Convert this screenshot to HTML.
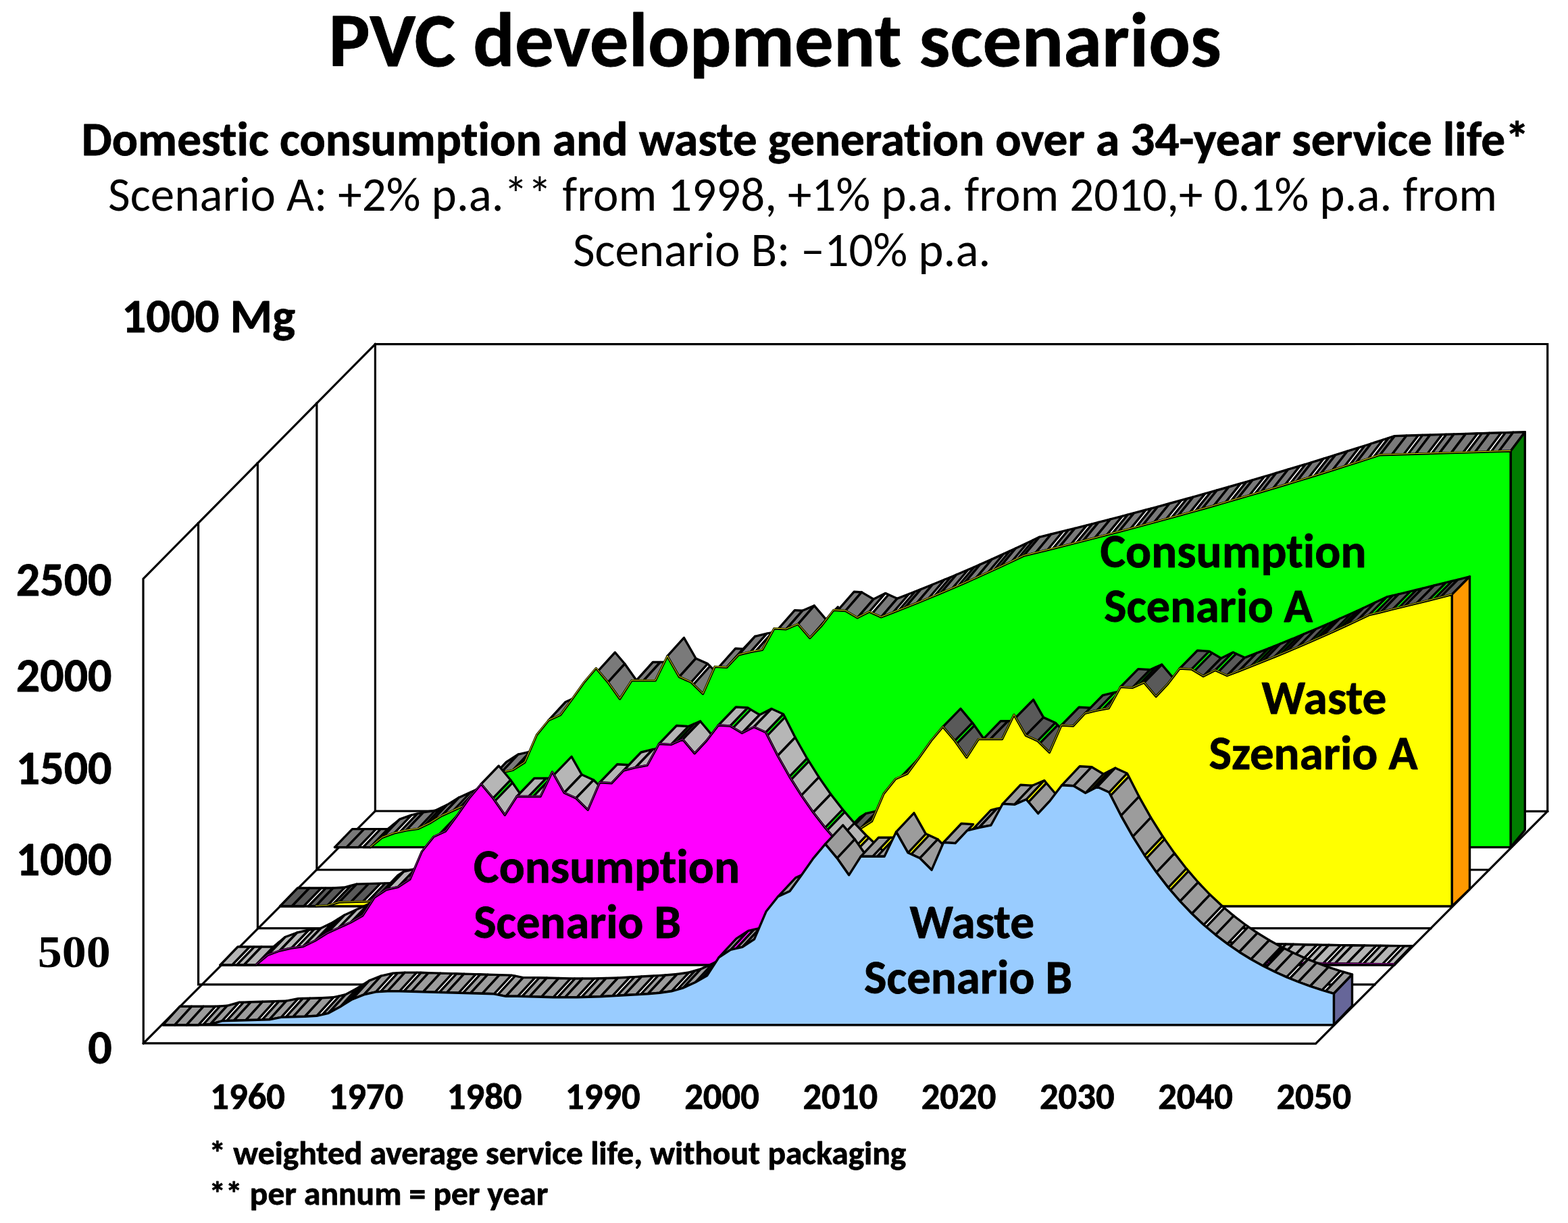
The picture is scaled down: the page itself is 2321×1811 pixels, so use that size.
<!DOCTYPE html>
<html lang="en">
<head>
<meta charset="utf-8">
<title>PVC development scenarios</title>
<style>
html,body{margin:0;padding:0;background:#fff}
body{width:2321px;height:1811px;overflow:hidden}
svg{display:block}
text{fill:#000;font-variant-ligatures:none;font-kerning:normal}
.r{font-size-adjust:0.47754}
.b{font-size-adjust:0.48486;stroke:#000;stroke-width:.8px;stroke-linejoin:round}
</style>
</head>
<body>
<svg width="2321" height="1811" viewBox="0 0 2321 1811">
<rect width="2321" height="1811" fill="#fff"/>
<g>
<g fill="none" stroke="#000" stroke-width="3.2" stroke-linejoin="miter" stroke-linecap="square">
<path d="M555.4 509.6 L2290.7 509.5 L2290.7 1201.3 L555.4 1201 Z"/>
<path d="M555.4 509.6 L212 857.1 L212.3 1544.9 L1947.6 1545.3 L2290.7 1201.3"/>
<path d="M212.3 1544.9 L555.4 1201"/>
<path d="M293.6 774.5 L293.6 1457.8 L299.2 1457.8 L2034.9 1457.8"/>
<path d="M381.4 685.7 L381.4 1374.6 L382.2 1374.6 L2117.9 1374.6"/>
<path d="M468.9 597.1 L468.9 1288 L468.6 1288 L2204.2 1288"/>
</g>
<g stroke="#000" stroke-width="3.4" stroke-linejoin="round">
<g fill="#7a7a7a">
<path d="M495.5 1254.6 L513.1 1254.6 L539 1227.6 L521.5 1227.6 Z"/>
<path d="M513.1 1254.6 L530.7 1254.6 L556.6 1227.6 L539 1227.6 Z"/>
<path d="M537.5 1254.6 L548.2 1254.6 L574.1 1227.6 L563.4 1227.6 Z"/>
<path d="M548.2 1254.6 L565.8 1240.3 L591.6 1213.2 L574.1 1227.6 Z"/>
<path d="M565.8 1240.3 L583.4 1233.8 L609.2 1206.8 L591.6 1213.2 Z"/>
<path d="M592 1231.9 L601 1229.9 L626.7 1202.8 L617.8 1204.8 Z"/>
<path d="M601 1229.9 L618.6 1227.4 L644.2 1200.3 L626.7 1202.8 Z"/>
<path d="M627.4 1223.2 L636.2 1219 L661.8 1191.9 L653 1196.1 Z"/>
<path d="M636.2 1219 L653.7 1208.1 L679.3 1181 L661.8 1191.9 Z"/>
<path d="M653.7 1208.1 L671.3 1200.2 L696.8 1173.1 L679.3 1181 Z"/>
<path d="M680.1 1196.2 L688.9 1192.3 L714.4 1165.1 L705.6 1169.1 Z"/>
<path d="M688.9 1192.3 L706.5 1182.4 L731.9 1155.2 L714.4 1165.1 Z"/>
<path d="M724.1 1155.7 L741.6 1144.3 L767 1117.1 L749.4 1128.5 Z"/>
<path d="M741.6 1144.3 L759.2 1140.4 L784.5 1113.2 L767 1117.1 Z"/>
<path d="M768 1134.7 L776.8 1129 L802 1101.8 L793.3 1107.5 Z"/>
<path d="M812 1066.7 L829.6 1058.8 L854.6 1031.5 L837.1 1039.5 Z"/>
<path d="M885.5 993.3 L899.9 1010.3 L924.8 983 L910.4 966 Z"/>
<path d="M899.9 1010.3 L917.5 1035 L942.3 1007.7 L924.8 983 Z"/>
<path d="M941.7 1007.8 L952.6 1007.8 L977.4 980.5 L966.4 980.5 Z"/>
<path d="M952.6 1007.8 L970.2 1007.8 L994.9 980.5 L977.4 980.5 Z"/>
<path d="M987.8 971.7 L1005.4 1002.4 L1030 975 L1012.4 944.4 Z"/>
<path d="M1005.4 1002.4 L1023 1010.3 L1047.5 982.9 L1030 975 Z"/>
<path d="M1026.5 1013.7 L1040.5 1027.5 L1065 1000.1 L1051 986.4 Z"/>
<path d="M1064.3 987.7 L1075.7 988.4 L1100.1 960.9 L1088.8 960.2 Z"/>
<path d="M1075.7 988.4 L1093.3 969.8 L1117.6 942.3 L1100.1 960.9 Z"/>
<path d="M1093.3 969.8 L1110.9 965.5 L1135.2 938.1 L1117.6 942.3 Z"/>
<path d="M1118.7 964.1 L1128.4 962.3 L1152.7 934.8 L1143 936.6 Z"/>
<path d="M1152.2 931.1 L1163.6 931.8 L1187.8 904.3 L1176.4 903.6 Z"/>
<path d="M1163.6 931.8 L1181.2 924.3 L1205.3 896.8 L1187.8 904.3 Z"/>
<path d="M1181.2 924.3 L1198.8 944.8 L1222.8 917.3 L1205.3 896.8 Z"/>
<path d="M1207.6 935.5 L1216.4 926.3 L1240.4 898.7 L1231.6 908 Z"/>
<path d="M1240.1 903.9 L1251.5 904.5 L1275.4 876.9 L1264.1 876.3 Z"/>
<path d="M1251.5 904.5 L1269.1 914.9 L1293 887.3 L1275.4 876.9 Z"/>
<path d="M1269.1 914.9 L1286.7 906 L1310.5 878.4 L1293 887.3 Z"/>
<path d="M1291.3 908.1 L1304.3 913.9 L1328 886.3 L1315.2 880.5 Z"/>
<path d="M1304.3 913.9 L1321.8 907.1 L1345.6 879.5 L1328 886.3 Z"/>
<path d="M1330.6 903.7 L1339.4 900.2 L1363.1 872.6 L1354.4 876 Z"/>
<path d="M1339.4 900.2 L1357 893.2 L1380.6 865.5 L1363.1 872.6 Z"/>
<path d="M1357 893.2 L1374.6 886 L1398.2 858.3 L1380.6 865.5 Z"/>
<path d="M1383.4 882.3 L1392.2 878.6 L1415.7 851 L1407 854.7 Z"/>
<path d="M1392.2 878.6 L1409.8 871.2 L1433.2 843.5 L1415.7 851 Z"/>
<path d="M1418.5 867.4 L1427.3 863.6 L1450.8 835.9 L1442 839.7 Z"/>
<path d="M1427.3 863.6 L1444.9 855.8 L1468.3 828.1 L1450.8 835.9 Z"/>
<path d="M1444.9 855.8 L1462.5 847.8 L1485.8 820.1 L1468.3 828.1 Z"/>
<path d="M1471.3 843.8 L1480.1 839.8 L1503.4 812 L1494.6 816.1 Z"/>
<path d="M1480.1 839.8 L1497.7 831.5 L1520.9 803.8 L1503.4 812 Z"/>
<path d="M1506.5 827.3 L1515.2 823.1 L1538.4 795.3 L1529.7 799.6 Z"/>
<path d="M1515.2 823.1 L1532.8 818.8 L1556 791 L1538.4 795.3 Z"/>
<path d="M1532.8 818.8 L1550.4 814.5 L1573.5 786.7 L1556 791 Z"/>
<path d="M1558.4 812.5 L1568 810.1 L1591 782.3 L1581.5 784.7 Z"/>
<path d="M1568 810.1 L1585.6 805.7 L1608.6 777.8 L1591 782.3 Z"/>
<path d="M1593.6 803.6 L1603.2 801.2 L1626.1 773.4 L1616.6 775.8 Z"/>
<path d="M1603.2 801.2 L1620.7 796.7 L1643.6 768.8 L1626.1 773.4 Z"/>
<path d="M1620.7 796.7 L1638.3 792.1 L1661.2 764.3 L1643.6 768.8 Z"/>
<path d="M1646.4 790 L1655.9 787.5 L1678.7 759.6 L1669.2 762.1 Z"/>
<path d="M1655.9 787.5 L1673.5 782.9 L1696.2 755 L1678.7 759.6 Z"/>
<path d="M1681.6 780.7 L1691.1 778.2 L1713.8 750.3 L1704.3 752.8 Z"/>
<path d="M1691.1 778.2 L1708.6 773.4 L1731.3 745.5 L1713.8 750.3 Z"/>
<path d="M1708.6 773.4 L1726.2 768.6 L1748.8 740.7 L1731.3 745.5 Z"/>
<path d="M1734.3 766.4 L1743.8 763.8 L1766.4 735.8 L1756.9 738.5 Z"/>
<path d="M1743.8 763.8 L1761.4 758.9 L1783.9 730.9 L1766.4 735.8 Z"/>
<path d="M1769.5 756.6 L1779 754 L1801.4 726 L1792 728.7 Z"/>
<path d="M1779 754 L1796.6 749 L1819 721 L1801.4 726 Z"/>
<path d="M1796.6 749 L1814.1 743.9 L1836.5 715.9 L1819 721 Z"/>
<path d="M1822.3 741.6 L1831.7 738.8 L1854 710.9 L1844.7 713.6 Z"/>
<path d="M1831.7 738.8 L1849.3 733.7 L1871.6 705.7 L1854 710.9 Z"/>
<path d="M1857.5 731.3 L1866.9 728.5 L1889.1 700.5 L1879.7 703.3 Z"/>
<path d="M1866.9 728.5 L1884.5 723.3 L1906.6 695.2 L1889.1 700.5 Z"/>
<path d="M1884.5 723.3 L1902 718 L1924.2 689.9 L1906.6 695.2 Z"/>
<path d="M1910.3 715.5 L1919.6 712.7 L1941.7 684.6 L1932.4 687.5 Z"/>
<path d="M1919.6 712.7 L1937.2 707.3 L1959.2 679.2 L1941.7 684.6 Z"/>
<path d="M1945.4 704.7 L1954.8 701.8 L1976.8 673.7 L1967.5 676.6 Z"/>
<path d="M1954.8 701.8 L1972.4 696.3 L1994.3 668.2 L1976.8 673.7 Z"/>
<path d="M1972.4 696.3 L1990 690.7 L2011.8 662.6 L1994.3 668.2 Z"/>
<path d="M1998.2 688.1 L2007.5 685.1 L2029.4 657 L2020.1 660 Z"/>
<path d="M2007.5 685.1 L2025.1 679.5 L2046.9 651.3 L2029.4 657 Z"/>
<path d="M2033.4 676.8 L2042.7 673.7 L2064.4 645.6 L2055.2 648.6 Z"/>
<path d="M2042.7 673.7 L2060.3 673.2 L2082 645 L2064.4 645.6 Z"/>
<path d="M2060.3 673.2 L2077.9 672.7 L2099.5 644.5 L2082 645 Z"/>
<path d="M2084.2 672.5 L2095.4 672.2 L2117 644 L2105.8 644.3 Z"/>
<path d="M2095.4 672.2 L2113 671.7 L2134.6 643.4 L2117 644 Z"/>
<path d="M2119.3 671.5 L2130.6 671.1 L2152.1 642.9 L2140.9 643.3 Z"/>
<path d="M2130.6 671.1 L2148.2 670.6 L2169.6 642.4 L2152.1 642.9 Z"/>
<path d="M2148.2 670.6 L2165.8 670.1 L2187.2 641.8 L2169.6 642.4 Z"/>
<path d="M2172.1 669.9 L2183.4 669.6 L2204.7 641.3 L2193.5 641.7 Z"/>
<path d="M2183.4 669.6 L2200.9 669 L2222.2 640.8 L2204.7 641.3 Z"/>
<path d="M2207.2 668.9 L2218.5 668.5 L2239.8 640.2 L2228.5 640.6 Z"/>
<path d="M2218.5 668.5 L2236.1 668 L2257.3 639.7 L2239.8 640.2 Z"/>
</g>
<path fill="none" stroke-linecap="butt" d="M539 1227.6 L539 1227.6 M556.6 1227.6 L563.4 1227.6 M574.1 1227.6 L574.1 1227.6 M591.6 1213.2 L591.6 1213.2 M609.2 1206.8 L617.8 1204.8 M626.7 1202.8 L626.7 1202.8 M644.2 1200.3 L653 1196.1 M661.8 1191.9 L661.8 1191.9 M679.3 1181 L679.3 1181 M696.8 1173.1 L705.6 1169.1 M714.4 1165.1 L714.4 1165.1 M767 1117.1 L767 1117.1 M784.5 1113.2 L793.3 1107.5 M924.8 983 L924.8 983 M977.4 980.5 L977.4 980.5 M1030 975 L1030 975 M1047.5 982.9 L1051 986.4 M1100.1 960.9 L1100.1 960.9 M1117.6 942.3 L1117.6 942.3 M1135.2 938.1 L1143 936.6 M1187.8 904.3 L1187.8 904.3 M1205.3 896.8 L1205.3 896.8 M1222.8 917.3 L1231.6 908 M1275.4 876.9 L1275.4 876.9 M1293 887.3 L1293 887.3 M1310.5 878.4 L1315.2 880.5 M1328 886.3 L1328 886.3 M1345.6 879.5 L1354.4 876 M1363.1 872.6 L1363.1 872.6 M1380.6 865.5 L1380.6 865.5 M1398.2 858.3 L1407 854.7 M1415.7 851 L1415.7 851 M1433.2 843.5 L1442 839.7 M1450.8 835.9 L1450.8 835.9 M1468.3 828.1 L1468.3 828.1 M1485.8 820.1 L1494.6 816.1 M1503.4 812 L1503.4 812 M1520.9 803.8 L1529.7 799.6 M1538.4 795.3 L1538.4 795.3 M1556 791 L1556 791 M1573.5 786.7 L1581.5 784.7 M1591 782.3 L1591 782.3 M1608.6 777.8 L1616.6 775.8 M1626.1 773.4 L1626.1 773.4 M1643.6 768.8 L1643.6 768.8 M1661.2 764.3 L1669.2 762.1 M1678.7 759.6 L1678.7 759.6 M1696.2 755 L1704.3 752.8 M1713.8 750.3 L1713.8 750.3 M1731.3 745.5 L1731.3 745.5 M1748.8 740.7 L1756.9 738.5 M1766.4 735.8 L1766.4 735.8 M1783.9 730.9 L1792 728.7 M1801.4 726 L1801.4 726 M1819 721 L1819 721 M1836.5 715.9 L1844.7 713.6 M1854 710.9 L1854 710.9 M1871.6 705.7 L1879.7 703.3 M1889.1 700.5 L1889.1 700.5 M1906.6 695.2 L1906.6 695.2 M1924.2 689.9 L1932.4 687.5 M1941.7 684.6 L1941.7 684.6 M1959.2 679.2 L1967.5 676.6 M1976.8 673.7 L1976.8 673.7 M1994.3 668.2 L1994.3 668.2 M2011.8 662.6 L2020.1 660 M2029.4 657 L2029.4 657 M2046.9 651.3 L2055.2 648.6 M2064.4 645.6 L2064.4 645.6 M2082 645 L2082 645 M2099.5 644.5 L2105.8 644.3 M2117 644 L2117 644 M2134.6 643.4 L2140.9 643.3 M2152.1 642.9 L2152.1 642.9 M2169.6 642.4 L2169.6 642.4 M2187.2 641.8 L2193.5 641.7 M2204.7 641.3 L2204.7 641.3 M2222.2 640.8 L2228.5 640.6 M2239.8 640.2 L2239.8 640.2"/>
<path fill="#007c00" d="M2236.1 668 L2257.3 639.7 L2257.3 1229.1 L2236.1 1254.6 Z"/>
<polygon fill="#00ff00" points="495.5,1254.6 513.1,1254.6 530.7,1254.6 548.2,1254.6 565.8,1240.3 583.4,1233.8 601,1229.9 618.6,1227.4 636.2,1219 653.7,1208.1 671.3,1200.2 688.9,1192.3 706.5,1182.4 724.1,1155.7 741.6,1144.3 759.2,1140.4 776.8,1129 794.4,1088.4 812,1066.7 829.6,1058.8 847.1,1035 864.7,1010.3 882.3,989.5 899.9,1010.3 917.5,1035 935,1007.8 952.6,1007.8 970.2,1007.8 987.8,971.7 1005.4,1002.4 1023,1010.3 1040.5,1027.5 1058.1,987.3 1075.7,988.4 1093.3,969.8 1110.9,965.5 1128.4,962.3 1146,930.7 1163.6,931.8 1181.2,924.3 1198.8,944.8 1216.4,926.3 1233.9,903.5 1251.5,904.5 1269.1,914.9 1286.7,906 1304.3,913.9 1321.8,907.1 1339.4,900.2 1357,893.2 1374.6,886 1392.2,878.6 1409.8,871.2 1427.3,863.6 1444.9,855.8 1462.5,847.8 1480.1,839.8 1497.7,831.5 1515.2,823.1 1532.8,818.8 1550.4,814.5 1568,810.1 1585.6,805.7 1603.2,801.2 1620.7,796.7 1638.3,792.1 1655.9,787.5 1673.5,782.9 1691.1,778.2 1708.6,773.4 1726.2,768.6 1743.8,763.8 1761.4,758.9 1779,754 1796.6,749 1814.1,743.9 1831.7,738.8 1849.3,733.7 1866.9,728.5 1884.5,723.3 1902,718 1919.6,712.7 1937.2,707.3 1954.8,701.8 1972.4,696.3 1990,690.7 2007.5,685.1 2025.1,679.5 2042.7,673.7 2060.3,673.2 2077.9,672.7 2095.4,672.2 2113,671.7 2130.6,671.1 2148.2,670.6 2165.8,670.1 2183.4,669.6 2200.9,669 2218.5,668.5 2236.1,668 2236.1,1254.6 495.5,1254.6"/>
</g>
<polyline fill="none" stroke="#e6e600" stroke-width="1" stroke-linejoin="round" points="548.2,1254 565.8,1239.7 583.4,1233.2 601,1229.3 618.6,1226.8 636.2,1218.4 653.7,1207.5 671.3,1199.6 688.9,1191.7 706.5,1181.8 724.1,1155.1 741.6,1143.7 759.2,1139.8 776.8,1128.4 794.4,1087.8 812,1066.1 829.6,1058.2 847.1,1034.4 864.7,1009.7 882.3,988.9 899.9,1009.7 917.5,1034.4 935,1007.2 952.6,1007.2 970.2,1007.2 987.8,971.1 1005.4,1001.8 1023,1009.7 1040.5,1026.9 1058.1,986.7 1075.7,987.8 1093.3,969.2 1110.9,964.9 1128.4,961.7 1146,930.1 1163.6,931.2 1181.2,923.7 1198.8,944.2 1216.4,925.7 1233.9,902.9 1251.5,903.9 1269.1,914.3 1286.7,905.4 1304.3,913.3 1321.8,906.5 1339.4,899.6 1357,892.6 1374.6,885.4 1392.2,878 1409.8,870.6 1427.3,863 1444.9,855.2 1462.5,847.2 1480.1,839.2 1497.7,830.9 1515.2,822.5 1532.8,818.2 1550.4,813.9 1568,809.5 1585.6,805.1 1603.2,800.6 1620.7,796.1 1638.3,791.5 1655.9,786.9 1673.5,782.3 1691.1,777.6 1708.6,772.8 1726.2,768 1743.8,763.2 1761.4,758.3 1779,753.4 1796.6,748.4 1814.1,743.3 1831.7,738.2 1849.3,733.1 1866.9,727.9 1884.5,722.7 1902,717.4 1919.6,712.1 1937.2,706.7 1954.8,701.2 1972.4,695.7 1990,690.1 2007.5,684.5 2025.1,678.9 2042.7,673.1 2060.3,672.6 2077.9,672.1 2095.4,671.6 2113,671.1 2130.6,670.5 2148.2,670 2165.8,669.5 2183.4,669 2200.9,668.4 2218.5,667.9 2236.1,667.4"/>
<g stroke="#000" stroke-width="3.4" stroke-linejoin="round">
<g fill="#595959">
<path d="M414.5 1342 L432 1342 L458 1315 L440.5 1315 Z"/>
<path d="M432 1342 L449.5 1342 L475.6 1315 L458 1315 Z"/>
<path d="M456.3 1342 L467.1 1342 L493.1 1315 L482.4 1315 Z"/>
<path d="M467.1 1342 L484.6 1341 L510.6 1314 L493.1 1315 Z"/>
<path d="M493.4 1338.5 L502.1 1336 L528.1 1309.1 L519.4 1311.5 Z"/>
<path d="M502.1 1336 L519.6 1335.6 L545.7 1308.6 L528.1 1309.1 Z"/>
<path d="M519.6 1335.6 L537.2 1335.1 L563.2 1308.1 L545.7 1308.6 Z"/>
<path d="M544.2 1334.9 L554.7 1334.6 L580.7 1307.6 L570.2 1307.9 Z"/>
<path d="M554.7 1334.6 L572.2 1334.1 L598.2 1307.1 L580.7 1307.6 Z"/>
<path d="M580.6 1332.4 L589.7 1330.6 L615.8 1303.6 L606.6 1305.4 Z"/>
<path d="M589.7 1330.6 L607.2 1330.1 L633.3 1303.1 L615.8 1303.6 Z"/>
<path d="M607.2 1330.1 L624.8 1329.6 L650.8 1302.6 L633.3 1303.1 Z"/>
<path d="M632 1329.2 L642.3 1328.6 L668.3 1301.7 L658 1302.2 Z"/>
<path d="M642.3 1328.6 L659.8 1324.6 L685.9 1297.7 L668.3 1301.7 Z"/>
<path d="M668.6 1319.9 L677.3 1315.2 L703.4 1288.3 L694.6 1293 Z"/>
<path d="M677.3 1315.2 L694.9 1304.3 L720.9 1277.4 L703.4 1288.3 Z"/>
<path d="M694.9 1304.3 L712.4 1297.4 L738.4 1270.4 L720.9 1277.4 Z"/>
<path d="M721.1 1295.4 L729.9 1293.4 L756 1266.5 L747.2 1268.5 Z"/>
<path d="M729.9 1293.4 L747.4 1292.4 L773.5 1265.5 L756 1266.5 Z"/>
<path d="M754.2 1292.4 L764.9 1292.4 L791 1265.5 L780.3 1265.5 Z"/>
<path d="M764.9 1292.4 L782.5 1292.9 L808.5 1266 L791 1265.5 Z"/>
<path d="M782.5 1292.9 L800 1293.4 L826.1 1266.5 L808.5 1266 Z"/>
<path d="M806.6 1293.6 L817.5 1293.9 L843.6 1267 L832.7 1266.7 Z"/>
<path d="M817.5 1293.9 L835 1294.4 L861.1 1267.5 L843.6 1267 Z"/>
<path d="M841.7 1294.6 L852.6 1294.9 L878.6 1268 L867.7 1267.7 Z"/>
<path d="M852.6 1294.9 L870.1 1295.4 L896.2 1268.5 L878.6 1268 Z"/>
<path d="M870.1 1295.4 L887.6 1295.9 L913.7 1269 L896.2 1268.5 Z"/>
<path d="M894.2 1296.1 L905.1 1296.4 L931.2 1269.5 L920.3 1269.2 Z"/>
<path d="M905.1 1296.4 L922.6 1299.8 L948.7 1273 L931.2 1269.5 Z"/>
<path d="M929.5 1299.8 L940.2 1299.8 L966.3 1273 L955.6 1273 Z"/>
<path d="M940.2 1299.8 L957.7 1300.3 L983.8 1273.5 L966.3 1273 Z"/>
<path d="M957.7 1300.3 L975.2 1300.8 L1001.3 1274 L983.8 1273.5 Z"/>
<path d="M981.9 1301 L992.7 1301.3 L1018.8 1274.5 L1008 1274.1 Z"/>
<path d="M992.7 1301.3 L1010.3 1301.3 L1036.4 1274.5 L1018.8 1274.5 Z"/>
<path d="M1017.1 1301.3 L1027.8 1301.3 L1053.9 1274.5 L1043.2 1274.5 Z"/>
<path d="M1027.8 1301.3 L1045.3 1300.8 L1071.4 1274 L1053.9 1274.5 Z"/>
<path d="M1045.3 1300.8 L1062.8 1300.3 L1088.9 1273.5 L1071.4 1274 Z"/>
<path d="M1070.1 1299.9 L1080.3 1299.3 L1106.5 1272.5 L1096.2 1273.1 Z"/>
<path d="M1080.3 1299.3 L1097.9 1298.4 L1124 1271.5 L1106.5 1272.5 Z"/>
<path d="M1105.1 1297.9 L1115.4 1297.4 L1141.5 1270.5 L1131.2 1271.1 Z"/>
<path d="M1115.4 1297.4 L1132.9 1296.4 L1159 1269.5 L1141.5 1270.5 Z"/>
<path d="M1132.9 1296.4 L1150.4 1294.9 L1176.6 1268 L1159 1269.5 Z"/>
<path d="M1158.4 1293.8 L1168 1292.4 L1194.1 1265.6 L1184.5 1266.9 Z"/>
<path d="M1168 1292.4 L1185.5 1287.4 L1211.6 1260.6 L1194.1 1265.6 Z"/>
<path d="M1194.2 1283.5 L1203 1279.5 L1229.1 1252.7 L1220.4 1256.6 Z"/>
<path d="M1203 1279.5 L1220.5 1269.6 L1246.7 1242.8 L1229.1 1252.7 Z"/>
<path d="M1246.8 1237.1 L1255.6 1231.4 L1281.7 1204.6 L1272.9 1210.3 Z"/>
<path d="M1255.6 1231.4 L1273.1 1227.4 L1299.2 1200.6 L1281.7 1204.6 Z"/>
<path d="M1281.8 1221.7 L1290.6 1216 L1316.8 1189.2 L1308 1194.9 Z"/>
<path d="M1334.4 1149.6 L1343.2 1145.6 L1369.3 1118.8 L1360.6 1122.8 Z"/>
<path d="M1395.7 1076.2 L1413.3 1097 L1439.4 1070.3 L1421.9 1049.4 Z"/>
<path d="M1416.1 1101.1 L1430.8 1121.8 L1457 1095.1 L1442.3 1074.3 Z"/>
<path d="M1455.2 1094.6 L1465.8 1094.6 L1492 1067.8 L1481.3 1067.8 Z"/>
<path d="M1465.8 1094.6 L1483.4 1094.6 L1509.5 1067.8 L1492 1067.8 Z"/>
<path d="M1503.4 1062.8 L1518.4 1089.1 L1544.6 1062.4 L1529.6 1036.1 Z"/>
<path d="M1518.4 1089.1 L1535.9 1097.1 L1562.1 1070.3 L1544.6 1062.4 Z"/>
<path d="M1539.4 1100.5 L1553.4 1114.3 L1579.6 1087.6 L1565.6 1073.8 Z"/>
<path d="M1571 1074 L1588.5 1075.1 L1614.7 1048.3 L1597.2 1047.2 Z"/>
<path d="M1606 1056.4 L1623.5 1052.2 L1649.7 1025.4 L1632.2 1029.7 Z"/>
<path d="M1631.9 1050.6 L1641.1 1048.9 L1667.3 1022.2 L1658.1 1023.9 Z"/>
<path d="M1658.6 1017.3 L1676.1 1018.4 L1702.3 991.7 L1684.8 990.6 Z"/>
<path d="M1684.9 1014.6 L1693.6 1010.8 L1719.8 984.1 L1711.1 987.9 Z"/>
<path d="M1693.6 1010.8 L1711.1 1031.5 L1737.4 1004.8 L1719.8 984.1 Z"/>
<path d="M1746.2 990 L1763.7 991 L1789.9 964.4 L1772.4 963.3 Z"/>
<path d="M1768 993.6 L1781.2 1001.5 L1807.5 974.8 L1794.3 966.9 Z"/>
<path d="M1781.2 1001.5 L1798.8 992.5 L1825 965.9 L1807.5 974.8 Z"/>
<path d="M1803.5 994.7 L1816.3 1000.5 L1842.5 973.8 L1829.7 968 Z"/>
<path d="M1816.3 1000.5 L1833.8 993.8 L1860 967.1 L1842.5 973.8 Z"/>
<path d="M1833.8 993.8 L1851.3 986.9 L1877.6 960.3 L1860 967.1 Z"/>
<path d="M1860.1 983.4 L1868.8 979.9 L1895.1 953.3 L1886.3 956.8 Z"/>
<path d="M1868.8 979.9 L1886.4 972.8 L1912.6 946.2 L1895.1 953.3 Z"/>
<path d="M1895.1 969.2 L1903.9 965.6 L1930.1 938.9 L1921.4 942.5 Z"/>
<path d="M1903.9 965.6 L1921.4 958.2 L1947.7 931.5 L1930.1 938.9 Z"/>
<path d="M1921.4 958.2 L1938.9 950.6 L1965.2 924 L1947.7 931.5 Z"/>
<path d="M1947.7 946.8 L1956.5 943 L1982.7 916.3 L1974 920.2 Z"/>
<path d="M1956.5 943 L1974 935.1 L2000.2 908.5 L1982.7 916.3 Z"/>
<path d="M1982.7 931.1 L1991.5 927.1 L2017.8 900.5 L2009 904.5 Z"/>
<path d="M1991.5 927.1 L2009 919 L2035.3 892.3 L2017.8 900.5 Z"/>
<path d="M2009 919 L2026.5 910.7 L2052.8 884 L2035.3 892.3 Z"/>
<path d="M2035.3 908.6 L2044.1 906.5 L2070.3 879.8 L2061.6 881.9 Z"/>
<path d="M2044.1 906.5 L2061.6 902.2 L2087.9 875.6 L2070.3 879.8 Z"/>
<path d="M2070.4 900.1 L2079.1 897.9 L2105.4 871.3 L2096.6 873.5 Z"/>
<path d="M2079.1 897.9 L2096.6 893.6 L2122.9 867 L2105.4 871.3 Z"/>
<path d="M2096.6 893.6 L2114.2 889.3 L2140.4 862.7 L2122.9 867 Z"/>
<path d="M2122.9 887.1 L2131.7 884.9 L2158 858.3 L2149.2 860.5 Z"/>
<path d="M2131.7 884.9 L2149.2 880.4 L2175.5 853.8 L2158 858.3 Z"/>
</g>
<path fill="none" stroke-linecap="butt" d="M458 1315 L458 1315 M475.6 1315 L482.4 1315 M493.1 1315 L493.1 1315 M510.6 1314 L519.4 1311.5 M528.1 1309.1 L528.1 1309.1 M545.7 1308.6 L545.7 1308.6 M563.2 1308.1 L570.2 1307.9 M580.7 1307.6 L580.7 1307.6 M598.2 1307.1 L606.6 1305.4 M615.8 1303.6 L615.8 1303.6 M633.3 1303.1 L633.3 1303.1 M650.8 1302.6 L658 1302.2 M668.3 1301.7 L668.3 1301.7 M685.9 1297.7 L694.6 1293 M703.4 1288.3 L703.4 1288.3 M720.9 1277.4 L720.9 1277.4 M738.4 1270.4 L747.2 1268.5 M756 1266.5 L756 1266.5 M773.5 1265.5 L780.3 1265.5 M791 1265.5 L791 1265.5 M808.5 1266 L808.5 1266 M826.1 1266.5 L832.7 1266.7 M843.6 1267 L843.6 1267 M861.1 1267.5 L867.7 1267.7 M878.6 1268 L878.6 1268 M896.2 1268.5 L896.2 1268.5 M913.7 1269 L920.3 1269.2 M931.2 1269.5 L931.2 1269.5 M948.7 1273 L955.6 1273 M966.3 1273 L966.3 1273 M983.8 1273.5 L983.8 1273.5 M1001.3 1274 L1008 1274.1 M1018.8 1274.5 L1018.8 1274.5 M1036.4 1274.5 L1043.2 1274.5 M1053.9 1274.5 L1053.9 1274.5 M1071.4 1274 L1071.4 1274 M1088.9 1273.5 L1096.2 1273.1 M1106.5 1272.5 L1106.5 1272.5 M1124 1271.5 L1131.2 1271.1 M1141.5 1270.5 L1141.5 1270.5 M1159 1269.5 L1159 1269.5 M1176.6 1268 L1184.5 1266.9 M1194.1 1265.6 L1194.1 1265.6 M1211.6 1260.6 L1220.4 1256.6 M1229.1 1252.7 L1229.1 1252.7 M1281.7 1204.6 L1281.7 1204.6 M1299.2 1200.6 L1308 1194.9 M1439.4 1070.3 L1442.3 1074.3 M1492 1067.8 L1492 1067.8 M1544.6 1062.4 L1544.6 1062.4 M1562.1 1070.3 L1565.6 1073.8 M1649.7 1025.4 L1658.1 1023.9 M1702.3 991.7 L1711.1 987.9 M1719.8 984.1 L1719.8 984.1 M1789.9 964.4 L1794.3 966.9 M1807.5 974.8 L1807.5 974.8 M1825 965.9 L1829.7 968 M1842.5 973.8 L1842.5 973.8 M1860 967.1 L1860 967.1 M1877.6 960.3 L1886.3 956.8 M1895.1 953.3 L1895.1 953.3 M1912.6 946.2 L1921.4 942.5 M1930.1 938.9 L1930.1 938.9 M1947.7 931.5 L1947.7 931.5 M1965.2 924 L1974 920.2 M1982.7 916.3 L1982.7 916.3 M2000.2 908.5 L2009 904.5 M2017.8 900.5 L2017.8 900.5 M2035.3 892.3 L2035.3 892.3 M2052.8 884 L2061.6 881.9 M2070.3 879.8 L2070.3 879.8 M2087.9 875.6 L2096.6 873.5 M2105.4 871.3 L2105.4 871.3 M2122.9 867 L2122.9 867 M2140.4 862.7 L2149.2 860.5 M2158 858.3 L2158 858.3"/>
<path fill="#ff9900" d="M2149.2 880.4 L2175.5 853.8 L2175.5 1316.8 L2149.2 1342 Z"/>
<polygon fill="#ffff00" points="414.5,1342 432,1342 449.5,1342 467.1,1342 484.6,1341 502.1,1336 519.6,1335.6 537.2,1335.1 554.7,1334.6 572.2,1334.1 589.7,1330.6 607.2,1330.1 624.8,1329.6 642.3,1328.6 659.8,1324.6 677.3,1315.2 694.9,1304.3 712.4,1297.4 729.9,1293.4 747.4,1292.4 764.9,1292.4 782.5,1292.9 800,1293.4 817.5,1293.9 835,1294.4 852.6,1294.9 870.1,1295.4 887.6,1295.9 905.1,1296.4 922.6,1299.8 940.2,1299.8 957.7,1300.3 975.2,1300.8 992.7,1301.3 1010.3,1301.3 1027.8,1301.3 1045.3,1300.8 1062.8,1300.3 1080.3,1299.3 1097.9,1298.4 1115.4,1297.4 1132.9,1296.4 1150.4,1294.9 1168,1292.4 1185.5,1287.4 1203,1279.5 1220.5,1269.6 1238,1242.8 1255.6,1231.4 1273.1,1227.4 1290.6,1216 1308.1,1175.4 1325.7,1153.5 1343.2,1145.6 1360.7,1121.8 1378.2,1097 1395.7,1076.2 1413.3,1097 1430.8,1121.8 1448.3,1094.6 1465.8,1094.6 1483.4,1094.6 1500.9,1058.4 1518.4,1089.1 1535.9,1097.1 1553.4,1114.3 1571,1074 1588.5,1075.1 1606,1056.4 1623.5,1052.2 1641.1,1048.9 1658.6,1017.3 1676.1,1018.4 1693.6,1010.8 1711.1,1031.5 1728.7,1012.8 1746.2,990 1763.7,991 1781.2,1001.5 1798.8,992.5 1816.3,1000.5 1833.8,993.8 1851.3,986.9 1868.8,979.9 1886.4,972.8 1903.9,965.6 1921.4,958.2 1938.9,950.6 1956.5,943 1974,935.1 1991.5,927.1 2009,919 2026.5,910.7 2044.1,906.5 2061.6,902.2 2079.1,897.9 2096.6,893.6 2114.2,889.3 2131.7,884.9 2149.2,880.4 2149.2,1342 414.5,1342"/>
</g>
<polyline fill="none" stroke="#c8c800" stroke-width="1" stroke-linejoin="round" points="467.1,1341.4 484.6,1340.4 502.1,1335.4 519.6,1335 537.2,1334.5 554.7,1334 572.2,1333.5 589.7,1330 607.2,1329.5 624.8,1329 642.3,1328 659.8,1324 677.3,1314.6 694.9,1303.7 712.4,1296.8 729.9,1292.8 747.4,1291.8 764.9,1291.8 782.5,1292.3 800,1292.8 817.5,1293.3 835,1293.8 852.6,1294.3 870.1,1294.8 887.6,1295.3 905.1,1295.8 922.6,1299.2 940.2,1299.2 957.7,1299.7 975.2,1300.2 992.7,1300.7 1010.3,1300.7 1027.8,1300.7 1045.3,1300.2 1062.8,1299.7 1080.3,1298.7 1097.9,1297.8 1115.4,1296.8 1132.9,1295.8 1150.4,1294.3 1168,1291.8 1185.5,1286.8 1203,1278.9 1220.5,1269 1238,1242.2 1255.6,1230.8 1273.1,1226.8 1290.6,1215.4 1308.1,1174.8 1325.7,1152.9 1343.2,1145 1360.7,1121.2 1378.2,1096.4 1395.7,1075.6 1413.3,1096.4 1430.8,1121.2 1448.3,1094 1465.8,1094 1483.4,1094 1500.9,1057.8 1518.4,1088.5 1535.9,1096.5 1553.4,1113.7 1571,1073.4 1588.5,1074.5 1606,1055.8 1623.5,1051.6 1641.1,1048.3 1658.6,1016.7 1676.1,1017.8 1693.6,1010.2 1711.1,1030.9 1728.7,1012.2 1746.2,989.4 1763.7,990.4 1781.2,1000.9 1798.8,991.9 1816.3,999.9 1833.8,993.2 1851.3,986.3 1868.8,979.3 1886.4,972.2 1903.9,965 1921.4,957.6 1938.9,950 1956.5,942.4 1974,934.5 1991.5,926.5 2009,918.4 2026.5,910.1 2044.1,905.9 2061.6,901.6 2079.1,897.3 2096.6,893 2114.2,888.7 2131.7,884.3 2149.2,879.8"/>
<g stroke="#000" stroke-width="3.4" stroke-linejoin="round">
<g fill="#b6b6b6">
<path d="M326 1429 L343.6 1429 L369.6 1402 L352 1402 Z"/>
<path d="M350.4 1429 L361.1 1429 L387.1 1402 L376.4 1402 Z"/>
<path d="M361.1 1429 L378.7 1429 L404.7 1402 L387.1 1402 Z"/>
<path d="M387.4 1421.8 L396.2 1414.5 L422.2 1387.5 L413.4 1394.8 Z"/>
<path d="M396.2 1414.5 L413.8 1408 L439.8 1381 L422.2 1387.5 Z"/>
<path d="M413.8 1408 L431.3 1404 L457.3 1377 L439.8 1381 Z"/>
<path d="M439.2 1402.9 L448.9 1401.5 L474.9 1374.5 L465.2 1375.9 Z"/>
<path d="M448.9 1401.5 L466.4 1393 L492.4 1366 L474.9 1374.5 Z"/>
<path d="M475.2 1387.5 L484 1382 L510 1355 L501.2 1360.5 Z"/>
<path d="M484 1382 L501.5 1374 L527.5 1347 L510 1355 Z"/>
<path d="M501.5 1374 L519.1 1366 L545.1 1339 L527.5 1347 Z"/>
<path d="M527.9 1361 L536.7 1356 L562.7 1329 L553.9 1334 Z"/>
<path d="M563 1323.2 L571.8 1317.5 L597.8 1290.5 L589 1296.2 Z"/>
<path d="M571.8 1317.5 L589.3 1313.5 L615.3 1286.5 L597.8 1290.5 Z"/>
<path d="M589.3 1313.5 L606.9 1302 L632.9 1275 L615.3 1286.5 Z"/>
<path d="M650.8 1235 L659.5 1231 L685.5 1204 L676.8 1208 Z"/>
<path d="M712.2 1161 L729.8 1182 L755.8 1155 L738.2 1134 Z"/>
<path d="M732.6 1186.1 L747.3 1207 L773.3 1180 L758.6 1159.1 Z"/>
<path d="M764.9 1179.5 L782.4 1179.5 L808.4 1152.5 L790.9 1152.5 Z"/>
<path d="M789.2 1179.5 L800 1179.5 L826 1152.5 L815.2 1152.5 Z"/>
<path d="M820 1147.4 L835.1 1174 L861.1 1147 L846 1120.4 Z"/>
<path d="M835.1 1174 L852.6 1182 L878.6 1155 L861.1 1147 Z"/>
<path d="M852.6 1182 L870.2 1199.4 L896.2 1172.4 L878.6 1155 Z"/>
<path d="M887.7 1158.7 L905.3 1159.8 L931.3 1132.8 L913.7 1131.7 Z"/>
<path d="M922.9 1141 L940.4 1136.7 L966.4 1109.7 L948.9 1114 Z"/>
<path d="M940.4 1136.7 L958 1133.4 L984 1106.4 L966.4 1109.7 Z"/>
<path d="M975.5 1101.5 L993.1 1102.6 L1019.1 1075.6 L1001.5 1074.5 Z"/>
<path d="M1001.9 1098.8 L1010.6 1095 L1036.6 1068 L1027.8 1071.8 Z"/>
<path d="M1010.6 1095 L1028.2 1115.8 L1054.2 1088.8 L1036.6 1068 Z"/>
<path d="M1063.3 1074 L1080.8 1075 L1106.8 1048 L1089.3 1047 Z"/>
<path d="M1085.2 1077.6 L1098.4 1085.5 L1124.4 1058.5 L1111.2 1050.6 Z"/>
<path d="M1098.4 1085.5 L1116 1076.5 L1142 1049.5 L1124.4 1058.5 Z"/>
<path d="M1116 1076.5 L1133.5 1084.5 L1159.5 1057.5 L1142 1049.5 Z"/>
<path d="M1135.9 1089.1 L1151.1 1119 L1177.1 1092 L1161.9 1062.1 Z"/>
<path d="M1151.1 1119 L1168.6 1150 L1194.6 1123 L1177.1 1092 Z"/>
<path d="M1171.3 1154.2 L1186.2 1177.9 L1212.2 1150.9 L1197.3 1127.2 Z"/>
<path d="M1186.2 1177.9 L1203.7 1203 L1229.7 1176 L1212.2 1150.9 Z"/>
<path d="M1203.7 1203 L1221.3 1225.6 L1247.3 1198.6 L1229.7 1176 Z"/>
<path d="M1224.5 1229.3 L1238.8 1245.9 L1264.8 1218.9 L1250.5 1202.3 Z"/>
<path d="M1238.8 1245.9 L1256.4 1264.2 L1282.4 1237.2 L1264.8 1218.9 Z"/>
<path d="M1260 1267.6 L1273.9 1280.7 L1299.9 1253.7 L1286 1240.6 Z"/>
<path d="M1273.9 1280.7 L1291.5 1295.5 L1317.5 1268.5 L1299.9 1253.7 Z"/>
<path d="M1291.5 1295.5 L1309.1 1308.9 L1335.1 1281.9 L1317.5 1268.5 Z"/>
<path d="M1313.2 1311.7 L1326.6 1320.9 L1352.6 1293.9 L1339.2 1284.7 Z"/>
<path d="M1326.6 1320.9 L1344.2 1331.7 L1370.2 1304.7 L1352.6 1293.9 Z"/>
<path d="M1348.6 1334.2 L1361.7 1341.4 L1387.7 1314.4 L1374.6 1307.2 Z"/>
<path d="M1361.7 1341.4 L1379.3 1350.2 L1405.3 1323.2 L1387.7 1314.4 Z"/>
<path d="M1379.3 1350.2 L1396.8 1358.1 L1422.8 1331.1 L1405.3 1323.2 Z"/>
<path d="M1401.7 1360 L1414.4 1365.2 L1440.4 1338.2 L1427.7 1333 Z"/>
<path d="M1414.4 1365.2 L1431.9 1371.5 L1457.9 1344.5 L1440.4 1338.2 Z"/>
<path d="M1437.1 1373.2 L1449.5 1377.3 L1475.5 1350.3 L1463.1 1346.2 Z"/>
<path d="M1449.5 1377.3 L1467 1382.5 L1493 1355.5 L1475.5 1350.3 Z"/>
<path d="M1467 1382.5 L1484.6 1387.1 L1510.6 1360.1 L1493 1355.5 Z"/>
<path d="M1490.1 1388.4 L1502.2 1391.3 L1528.2 1364.3 L1516.1 1361.4 Z"/>
<path d="M1502.2 1391.3 L1519.7 1395.1 L1545.7 1368.1 L1528.2 1364.3 Z"/>
<path d="M1525.4 1396.2 L1537.3 1398.5 L1563.3 1371.5 L1551.4 1369.2 Z"/>
<path d="M1537.3 1398.5 L1554.8 1401.5 L1580.8 1374.5 L1563.3 1371.5 Z"/>
<path d="M1554.8 1401.5 L1572.4 1404.3 L1598.4 1377.3 L1580.8 1374.5 Z"/>
<path d="M1578.4 1405.1 L1589.9 1406.7 L1615.9 1379.7 L1604.4 1378.1 Z"/>
<path d="M1589.9 1406.7 L1607.5 1409 L1633.5 1382 L1615.9 1379.7 Z"/>
<path d="M1613.6 1409.7 L1625 1411 L1651 1384 L1639.6 1382.7 Z"/>
<path d="M1625 1411 L1642.6 1412.8 L1668.6 1385.8 L1651 1384 Z"/>
<path d="M1642.6 1412.8 L1660.1 1414.4 L1686.1 1387.4 L1668.6 1385.8 Z"/>
<path d="M1666.4 1414.9 L1677.7 1415.9 L1703.7 1388.9 L1692.4 1387.9 Z"/>
<path d="M1677.7 1415.9 L1695.3 1417.2 L1721.3 1390.2 L1703.7 1388.9 Z"/>
<path d="M1701.6 1417.6 L1712.8 1418.4 L1738.8 1391.4 L1727.6 1390.6 Z"/>
<path d="M1712.8 1418.4 L1730.4 1419.4 L1756.4 1392.4 L1738.8 1391.4 Z"/>
<path d="M1730.4 1419.4 L1747.9 1420.4 L1773.9 1393.4 L1756.4 1392.4 Z"/>
<path d="M1754.4 1420.7 L1765.5 1421.2 L1791.5 1394.2 L1780.4 1393.7 Z"/>
<path d="M1765.5 1421.2 L1783 1422 L1809 1395 L1791.5 1394.2 Z"/>
<path d="M1789.6 1422.3 L1800.6 1422.7 L1826.6 1395.7 L1815.6 1395.3 Z"/>
<path d="M1800.6 1422.7 L1818.1 1423.3 L1844.1 1396.3 L1826.6 1395.7 Z"/>
<path d="M1818.1 1423.3 L1835.7 1423.9 L1861.7 1396.9 L1844.1 1396.3 Z"/>
<path d="M1842.3 1424.1 L1853.2 1424.4 L1879.2 1397.4 L1868.3 1397.1 Z"/>
<path d="M1853.2 1424.4 L1870.8 1424.9 L1896.8 1397.9 L1879.2 1397.4 Z"/>
<path d="M1877.5 1425 L1888.4 1425.3 L1914.4 1398.3 L1903.5 1398 Z"/>
<path d="M1888.4 1425.3 L1905.9 1425.7 L1931.9 1398.7 L1914.4 1398.3 Z"/>
<path d="M1905.9 1425.7 L1923.5 1426 L1949.5 1399 L1931.9 1398.7 Z"/>
<path d="M1930.2 1426.1 L1941 1426.3 L1967 1399.3 L1956.2 1399.1 Z"/>
<path d="M1941 1426.3 L1958.6 1426.6 L1984.6 1399.6 L1967 1399.3 Z"/>
<path d="M1965.3 1426.7 L1976.1 1426.8 L2002.1 1399.8 L1991.3 1399.7 Z"/>
<path d="M1976.1 1426.8 L1993.7 1427 L2019.7 1400 L2002.1 1399.8 Z"/>
<path d="M1993.7 1427 L2011.2 1427.2 L2037.2 1400.2 L2019.7 1400 Z"/>
<path d="M2018 1427.3 L2028.8 1427.4 L2054.8 1400.4 L2044 1400.3 Z"/>
<path d="M2028.8 1427.4 L2046.3 1427.6 L2072.3 1400.6 L2054.8 1400.4 Z"/>
<path d="M2053.1 1427.6 L2063.9 1427.7 L2089.9 1400.7 L2079.1 1400.6 Z"/>
</g>
<path fill="none" stroke-linecap="butt" d="M369.6 1402 L376.4 1402 M387.1 1402 L387.1 1402 M404.7 1402 L413.4 1394.8 M422.2 1387.5 L422.2 1387.5 M439.8 1381 L439.8 1381 M457.3 1377 L465.2 1375.9 M474.9 1374.5 L474.9 1374.5 M492.4 1366 L501.2 1360.5 M510 1355 L510 1355 M527.5 1347 L527.5 1347 M545.1 1339 L553.9 1334 M597.8 1290.5 L597.8 1290.5 M615.3 1286.5 L615.3 1286.5 M755.8 1155 L758.6 1159.1 M808.4 1152.5 L815.2 1152.5 M861.1 1147 L861.1 1147 M878.6 1155 L878.6 1155 M966.4 1109.7 L966.4 1109.7 M1019.1 1075.6 L1027.8 1071.8 M1036.6 1068 L1036.6 1068 M1106.8 1048 L1111.2 1050.6 M1124.4 1058.5 L1124.4 1058.5 M1142 1049.5 L1142 1049.5 M1159.5 1057.5 L1161.9 1062.1 M1177.1 1092 L1177.1 1092 M1194.6 1123 L1197.3 1127.2 M1212.2 1150.9 L1212.2 1150.9 M1229.7 1176 L1229.7 1176 M1247.3 1198.6 L1250.5 1202.3 M1264.8 1218.9 L1264.8 1218.9 M1282.4 1237.2 L1286 1240.6 M1299.9 1253.7 L1299.9 1253.7 M1317.5 1268.5 L1317.5 1268.5 M1335.1 1281.9 L1339.2 1284.7 M1352.6 1293.9 L1352.6 1293.9 M1370.2 1304.7 L1374.6 1307.2 M1387.7 1314.4 L1387.7 1314.4 M1405.3 1323.2 L1405.3 1323.2 M1422.8 1331.1 L1427.7 1333 M1440.4 1338.2 L1440.4 1338.2 M1457.9 1344.5 L1463.1 1346.2 M1475.5 1350.3 L1475.5 1350.3 M1493 1355.5 L1493 1355.5 M1510.6 1360.1 L1516.1 1361.4 M1528.2 1364.3 L1528.2 1364.3 M1545.7 1368.1 L1551.4 1369.2 M1563.3 1371.5 L1563.3 1371.5 M1580.8 1374.5 L1580.8 1374.5 M1598.4 1377.3 L1604.4 1378.1 M1615.9 1379.7 L1615.9 1379.7 M1633.5 1382 L1639.6 1382.7 M1651 1384 L1651 1384 M1668.6 1385.8 L1668.6 1385.8 M1686.1 1387.4 L1692.4 1387.9 M1703.7 1388.9 L1703.7 1388.9 M1721.3 1390.2 L1727.6 1390.6 M1738.8 1391.4 L1738.8 1391.4 M1756.4 1392.4 L1756.4 1392.4 M1773.9 1393.4 L1780.4 1393.7 M1791.5 1394.2 L1791.5 1394.2 M1809 1395 L1815.6 1395.3 M1826.6 1395.7 L1826.6 1395.7 M1844.1 1396.3 L1844.1 1396.3 M1861.7 1396.9 L1868.3 1397.1 M1879.2 1397.4 L1879.2 1397.4 M1896.8 1397.9 L1903.5 1398 M1914.4 1398.3 L1914.4 1398.3 M1931.9 1398.7 L1931.9 1398.7 M1949.5 1399 L1956.2 1399.1 M1967 1399.3 L1967 1399.3 M1984.6 1399.6 L1991.3 1399.7 M2002.1 1399.8 L2002.1 1399.8 M2019.7 1400 L2019.7 1400 M2037.2 1400.2 L2044 1400.3 M2054.8 1400.4 L2054.8 1400.4 M2072.3 1400.6 L2079.1 1400.6"/>
<path fill="#800080" d="M2063.9 1427.7 L2089.9 1400.7 L2089.9 1402 L2063.9 1429 Z"/>
<polygon fill="#ff00ff" points="326,1429 343.6,1429 361.1,1429 378.7,1429 396.2,1414.5 413.8,1408 431.3,1404 448.9,1401.5 466.4,1393 484,1382 501.5,1374 519.1,1366 536.7,1356 554.2,1329 571.8,1317.5 589.3,1313.5 606.9,1302 624.4,1261 642,1239 659.5,1231 677.1,1207 694.6,1182 712.2,1161 729.8,1182 747.3,1207 764.9,1179.5 782.4,1179.5 800,1179.5 817.5,1143 835.1,1174 852.6,1182 870.2,1199.4 887.7,1158.7 905.3,1159.8 922.9,1141 940.4,1136.7 958,1133.4 975.5,1101.5 993.1,1102.6 1010.6,1095 1028.2,1115.8 1045.7,1097 1063.3,1074 1080.8,1075 1098.4,1085.5 1116,1076.5 1133.5,1084.5 1151.1,1119 1168.6,1150 1186.2,1177.9 1203.7,1203 1221.3,1225.6 1238.8,1245.9 1256.4,1264.2 1273.9,1280.7 1291.5,1295.5 1309.1,1308.9 1326.6,1320.9 1344.2,1331.7 1361.7,1341.4 1379.3,1350.2 1396.8,1358.1 1414.4,1365.2 1431.9,1371.5 1449.5,1377.3 1467,1382.5 1484.6,1387.1 1502.2,1391.3 1519.7,1395.1 1537.3,1398.5 1554.8,1401.5 1572.4,1404.3 1589.9,1406.7 1607.5,1409 1625,1411 1642.6,1412.8 1660.1,1414.4 1677.7,1415.9 1695.3,1417.2 1712.8,1418.4 1730.4,1419.4 1747.9,1420.4 1765.5,1421.2 1783,1422 1800.6,1422.7 1818.1,1423.3 1835.7,1423.9 1853.2,1424.4 1870.8,1424.9 1888.4,1425.3 1905.9,1425.7 1923.5,1426 1941,1426.3 1958.6,1426.6 1976.1,1426.8 1993.7,1427 2011.2,1427.2 2028.8,1427.4 2046.3,1427.6 2063.9,1427.7 2063.9,1429 326,1429"/>
</g>
<polyline fill="none" stroke="#a000a0" stroke-width="1" stroke-linejoin="round" points="378.7,1428.4 396.2,1413.9 413.8,1407.4 431.3,1403.4 448.9,1400.9 466.4,1392.4 484,1381.4 501.5,1373.4 519.1,1365.4 536.7,1355.4 554.2,1328.4 571.8,1316.9 589.3,1312.9 606.9,1301.4 624.4,1260.4 642,1238.4 659.5,1230.4 677.1,1206.4 694.6,1181.4 712.2,1160.4 729.8,1181.4 747.3,1206.4 764.9,1178.9 782.4,1178.9 800,1178.9 817.5,1142.4 835.1,1173.4 852.6,1181.4 870.2,1198.8 887.7,1158.1 905.3,1159.2 922.9,1140.4 940.4,1136.1 958,1132.8 975.5,1100.9 993.1,1102 1010.6,1094.4 1028.2,1115.2 1045.7,1096.4 1063.3,1073.4 1080.8,1074.4 1098.4,1084.9 1116,1075.9 1133.5,1083.9 1151.1,1118.4 1168.6,1149.4 1186.2,1177.3 1203.7,1202.4 1221.3,1225 1238.8,1245.3 1256.4,1263.6 1273.9,1280.1 1291.5,1294.9 1309.1,1308.3 1326.6,1320.3 1344.2,1331.1 1361.7,1340.8 1379.3,1349.6 1396.8,1357.5 1414.4,1364.6 1431.9,1370.9 1449.5,1376.7 1467,1381.9 1484.6,1386.5 1502.2,1390.7 1519.7,1394.5 1537.3,1397.9 1554.8,1400.9 1572.4,1403.7 1589.9,1406.1 1607.5,1408.4 1625,1410.4 1642.6,1412.2 1660.1,1413.8 1677.7,1415.3 1695.3,1416.6 1712.8,1417.8 1730.4,1418.8 1747.9,1419.8 1765.5,1420.6 1783,1421.4 1800.6,1422.1 1818.1,1422.7 1835.7,1423.3 1853.2,1423.8 1870.8,1424.3 1888.4,1424.7 1905.9,1425.1 1923.5,1425.4 1941,1425.7 1958.6,1426 1976.1,1426.2 1993.7,1426.4 2011.2,1426.6 2028.8,1426.8 2046.3,1427 2063.9,1427.1"/>
<g stroke="#000" stroke-width="3.4" stroke-linejoin="round">
<polygon fill="#fff" stroke="none" points="241.1,1517.8 258.6,1517.8 276.1,1517.8 293.6,1517.8 311.1,1516.8 328.6,1511.8 346.1,1511.3 363.7,1510.8 381.2,1510.3 398.7,1509.8 416.2,1506.3 433.7,1505.8 451.2,1505.3 468.7,1504.3 486.2,1500.3 503.7,1490.8 521.2,1479.8 538.7,1472.8 556.2,1468.8 573.8,1467.8 591.3,1467.8 608.8,1468.3 626.3,1468.8 643.8,1469.3 661.3,1469.8 678.8,1470.3 696.3,1470.8 713.8,1471.3 731.3,1471.8 748.8,1475.3 766.3,1475.3 783.9,1475.8 801.4,1476.3 818.9,1476.8 836.4,1476.8 853.9,1476.8 871.4,1476.3 888.9,1475.8 906.4,1474.8 923.9,1473.8 941.4,1472.8 958.9,1471.8 976.4,1470.3 993.9,1467.8 1011.5,1462.8 1037.4,1434.9 1019.9,1440 1002.3,1442.5 984.8,1444 967.3,1445 949.7,1446 932.2,1447 914.7,1448 897.2,1448.5 879.6,1449 862.1,1449 844.6,1449 827,1448.5 809.5,1448 792,1447.6 774.4,1447.6 756.9,1444.1 739.4,1443.6 721.9,1443.1 704.3,1442.6 686.8,1442.1 669.3,1441.6 651.7,1441.1 634.2,1440.6 616.7,1440.1 599.2,1440.1 581.6,1441.2 564.1,1445.2 546.6,1452.2 529,1463.2 511.5,1472.7 494,1476.7 476.5,1477.7 458.9,1478.2 441.4,1478.7 423.9,1482.2 406.3,1482.7 388.8,1483.2 371.3,1483.8 353.7,1484.3 336.2,1489.3 318.7,1490.3 301.2,1490.3 283.6,1490.3 266.1,1490.3"/>
<g fill="#9c9c9c">
<path d="M241.1 1517.8 L258.6 1517.8 L283.6 1490.3 L266.1 1490.3 Z"/>
<path d="M258.6 1517.8 L276.1 1517.8 L301.2 1490.3 L283.6 1490.3 Z"/>
<path d="M276.1 1517.8 L293.6 1517.8 L318.7 1490.3 L301.2 1490.3 Z"/>
<path d="M300.6 1517.4 L311.1 1516.8 L336.2 1489.3 L325.7 1489.9 Z"/>
<path d="M311.1 1516.8 L328.6 1511.8 L353.7 1484.3 L336.2 1489.3 Z"/>
<path d="M335.4 1511.6 L346.1 1511.3 L371.3 1483.8 L360.6 1484.1 Z"/>
<path d="M346.1 1511.3 L363.7 1510.8 L388.8 1483.2 L371.3 1483.8 Z"/>
<path d="M363.7 1510.8 L381.2 1510.3 L406.3 1482.7 L388.8 1483.2 Z"/>
<path d="M388 1510.1 L398.7 1509.8 L423.9 1482.2 L413.1 1482.5 Z"/>
<path d="M398.7 1509.8 L416.2 1506.3 L441.4 1478.7 L423.9 1482.2 Z"/>
<path d="M423 1506.1 L433.7 1505.8 L458.9 1478.2 L448.2 1478.5 Z"/>
<path d="M433.7 1505.8 L451.2 1505.3 L476.5 1477.7 L458.9 1478.2 Z"/>
<path d="M451.2 1505.3 L468.7 1504.3 L494 1476.7 L476.5 1477.7 Z"/>
<path d="M477.1 1502.4 L486.2 1500.3 L511.5 1472.7 L502.4 1474.8 Z"/>
<path d="M486.2 1500.3 L503.7 1490.8 L529 1463.2 L511.5 1472.7 Z"/>
<path d="M512.5 1485.3 L521.2 1479.8 L546.6 1452.2 L537.8 1457.7 Z"/>
<path d="M521.2 1479.8 L538.7 1472.8 L564.1 1445.2 L546.6 1452.2 Z"/>
<path d="M538.7 1472.8 L556.2 1468.8 L581.6 1441.2 L564.1 1445.2 Z"/>
<path d="M563.3 1468.4 L573.8 1467.8 L599.2 1440.1 L588.6 1440.8 Z"/>
<path d="M573.8 1467.8 L591.3 1467.8 L616.7 1440.1 L599.2 1440.1 Z"/>
<path d="M597.7 1468 L608.8 1468.3 L634.2 1440.6 L623.2 1440.3 Z"/>
<path d="M608.8 1468.3 L626.3 1468.8 L651.7 1441.1 L634.2 1440.6 Z"/>
<path d="M626.3 1468.8 L643.8 1469.3 L669.3 1441.6 L651.7 1441.1 Z"/>
<path d="M650.3 1469.5 L661.3 1469.8 L686.8 1442.1 L675.8 1441.8 Z"/>
<path d="M661.3 1469.8 L678.8 1470.3 L704.3 1442.6 L686.8 1442.1 Z"/>
<path d="M685.3 1470.5 L696.3 1470.8 L721.9 1443.1 L710.8 1442.8 Z"/>
<path d="M696.3 1470.8 L713.8 1471.3 L739.4 1443.6 L721.9 1443.1 Z"/>
<path d="M713.8 1471.3 L731.3 1471.8 L756.9 1444.1 L739.4 1443.6 Z"/>
<path d="M737 1472.9 L748.8 1475.3 L774.4 1447.6 L762.5 1445.2 Z"/>
<path d="M748.8 1475.3 L766.3 1475.3 L792 1447.6 L774.4 1447.6 Z"/>
<path d="M772.8 1475.5 L783.9 1475.8 L809.5 1448 L798.5 1447.7 Z"/>
<path d="M783.9 1475.8 L801.4 1476.3 L827 1448.5 L809.5 1448 Z"/>
<path d="M801.4 1476.3 L818.9 1476.8 L844.6 1449 L827 1448.5 Z"/>
<path d="M825.5 1476.8 L836.4 1476.8 L862.1 1449 L851.2 1449 Z"/>
<path d="M836.4 1476.8 L853.9 1476.8 L879.6 1449 L862.1 1449 Z"/>
<path d="M860.7 1476.6 L871.4 1476.3 L897.2 1448.5 L886.5 1448.8 Z"/>
<path d="M871.4 1476.3 L888.9 1475.8 L914.7 1448 L897.2 1448.5 Z"/>
<path d="M888.9 1475.8 L906.4 1474.8 L932.2 1447 L914.7 1448 Z"/>
<path d="M913.5 1474.4 L923.9 1473.8 L949.7 1446 L939.3 1446.6 Z"/>
<path d="M923.9 1473.8 L941.4 1472.8 L967.3 1445 L949.7 1446 Z"/>
<path d="M948.5 1472.4 L958.9 1471.8 L984.8 1444 L974.3 1444.6 Z"/>
<path d="M958.9 1471.8 L976.4 1470.3 L1002.3 1442.5 L984.8 1444 Z"/>
<path d="M976.4 1470.3 L993.9 1467.8 L1019.9 1440 L1002.3 1442.5 Z"/>
<path d="M1002.7 1465.3 L1011.5 1462.8 L1037.4 1434.9 L1028.6 1437.5 Z"/>
<path d="M1011.5 1462.8 L1029 1454.8 L1054.9 1426.9 L1037.4 1434.9 Z"/>
<path d="M1037.7 1449.8 L1046.5 1444.8 L1072.4 1416.9 L1063.7 1421.9 Z"/>
<path d="M1064 1417.8 L1081.5 1406.3 L1107.5 1378.4 L1090 1389.9 Z"/>
<path d="M1090 1404.4 L1099 1402.3 L1125 1374.4 L1116 1376.5 Z"/>
<path d="M1099 1402.3 L1116.5 1390.8 L1142.6 1362.9 L1125 1374.4 Z"/>
<path d="M1151.5 1327.8 L1169 1319.8 L1195.2 1291.9 L1177.6 1299.9 Z"/>
<path d="M1221.6 1249.8 L1239.1 1270.8 L1265.3 1242.8 L1247.7 1221.8 Z"/>
<path d="M1239.1 1270.8 L1256.6 1295.8 L1282.8 1267.8 L1265.3 1242.8 Z"/>
<path d="M1274.1 1268.3 L1291.6 1268.3 L1317.9 1240.3 L1300.3 1240.3 Z"/>
<path d="M1298.3 1268.3 L1309.1 1268.3 L1335.4 1240.3 L1324.6 1240.3 Z"/>
<path d="M1326.6 1231.8 L1344.1 1262.8 L1370.4 1234.8 L1352.9 1203.8 Z"/>
<path d="M1348.8 1264.9 L1361.6 1270.8 L1388 1242.8 L1375.2 1236.9 Z"/>
<path d="M1361.6 1270.8 L1379.1 1288.2 L1405.5 1260.2 L1388 1242.8 Z"/>
<path d="M1396.6 1247.5 L1414.1 1248.6 L1440.6 1220.6 L1423 1219.5 Z"/>
<path d="M1440.4 1227.7 L1449.2 1225.5 L1475.6 1197.4 L1466.8 1199.6 Z"/>
<path d="M1449.2 1225.5 L1466.7 1222.2 L1493.2 1194.1 L1475.6 1197.4 Z"/>
<path d="M1484.2 1190.3 L1501.7 1191.4 L1528.2 1163.3 L1510.7 1162.2 Z"/>
<path d="M1501.7 1191.4 L1519.2 1183.8 L1545.7 1155.7 L1528.2 1163.3 Z"/>
<path d="M1522.4 1187.6 L1536.7 1204.6 L1563.3 1176.5 L1548.9 1159.5 Z"/>
<path d="M1571.7 1162.8 L1589.2 1163.8 L1615.9 1135.7 L1598.3 1134.7 Z"/>
<path d="M1589.2 1163.8 L1606.7 1174.3 L1633.4 1146.2 L1615.9 1135.7 Z"/>
<path d="M1615.5 1169.8 L1624.2 1165.3 L1650.9 1137.2 L1642.1 1141.7 Z"/>
<path d="M1624.2 1165.3 L1641.7 1173.3 L1668.4 1145.2 L1650.9 1137.2 Z"/>
<path d="M1644.1 1177.9 L1659.3 1207.8 L1686 1179.6 L1670.8 1149.8 Z"/>
<path d="M1659.3 1207.8 L1676.8 1238.8 L1703.5 1210.6 L1686 1179.6 Z"/>
<path d="M1676.8 1238.8 L1694.3 1266.7 L1721 1238.5 L1703.5 1210.6 Z"/>
<path d="M1697.1 1270.8 L1711.8 1291.8 L1738.6 1263.6 L1723.9 1242.6 Z"/>
<path d="M1711.8 1291.8 L1729.3 1314.4 L1756.1 1286.2 L1738.6 1263.6 Z"/>
<path d="M1732.5 1318.1 L1746.8 1334.7 L1773.6 1306.5 L1759.3 1289.9 Z"/>
<path d="M1746.8 1334.7 L1764.3 1353 L1791.1 1324.8 L1773.6 1306.5 Z"/>
<path d="M1764.3 1353 L1781.8 1369.5 L1808.7 1341.3 L1791.1 1324.8 Z"/>
<path d="M1785.6 1372.7 L1799.3 1384.3 L1826.2 1356.1 L1812.4 1344.5 Z"/>
<path d="M1799.3 1384.3 L1816.8 1397.7 L1843.7 1369.5 L1826.2 1356.1 Z"/>
<path d="M1820.9 1400.5 L1834.3 1409.7 L1861.3 1381.5 L1847.8 1372.3 Z"/>
<path d="M1834.3 1409.7 L1851.8 1420.5 L1878.8 1392.3 L1861.3 1381.5 Z"/>
<path d="M1851.8 1420.5 L1869.4 1430.2 L1896.3 1402 L1878.8 1392.3 Z"/>
<path d="M1873.9 1432.5 L1886.9 1439 L1913.9 1410.7 L1900.9 1404.3 Z"/>
<path d="M1886.9 1439 L1904.4 1446.9 L1931.4 1418.6 L1913.9 1410.7 Z"/>
<path d="M1909.3 1448.8 L1921.9 1454 L1948.9 1425.7 L1936.3 1420.6 Z"/>
<path d="M1921.9 1454 L1939.4 1460.3 L1966.4 1432.1 L1948.9 1425.7 Z"/>
<path d="M1939.4 1460.3 L1956.9 1466.1 L1984 1437.8 L1966.4 1432.1 Z"/>
<path d="M1962.2 1467.7 L1974.4 1471.3 L2001.5 1443 L1989.3 1439.4 Z"/>
</g>
<path fill="none" stroke-linecap="butt" d="M283.6 1490.3 L283.6 1490.3 M301.2 1490.3 L301.2 1490.3 M318.7 1490.3 L325.7 1489.9 M336.2 1489.3 L336.2 1489.3 M353.7 1484.3 L360.6 1484.1 M371.3 1483.8 L371.3 1483.8 M388.8 1483.2 L388.8 1483.2 M406.3 1482.7 L413.1 1482.5 M423.9 1482.2 L423.9 1482.2 M441.4 1478.7 L448.2 1478.5 M458.9 1478.2 L458.9 1478.2 M476.5 1477.7 L476.5 1477.7 M494 1476.7 L502.4 1474.8 M511.5 1472.7 L511.5 1472.7 M529 1463.2 L537.8 1457.7 M546.6 1452.2 L546.6 1452.2 M564.1 1445.2 L564.1 1445.2 M581.6 1441.2 L588.6 1440.8 M599.2 1440.1 L599.2 1440.1 M616.7 1440.1 L623.2 1440.3 M634.2 1440.6 L634.2 1440.6 M651.7 1441.1 L651.7 1441.1 M669.3 1441.6 L675.8 1441.8 M686.8 1442.1 L686.8 1442.1 M704.3 1442.6 L710.8 1442.8 M721.9 1443.1 L721.9 1443.1 M739.4 1443.6 L739.4 1443.6 M756.9 1444.1 L762.5 1445.2 M774.4 1447.6 L774.4 1447.6 M792 1447.6 L798.5 1447.7 M809.5 1448 L809.5 1448 M827 1448.5 L827 1448.5 M844.6 1449 L851.2 1449 M862.1 1449 L862.1 1449 M879.6 1449 L886.5 1448.8 M897.2 1448.5 L897.2 1448.5 M914.7 1448 L914.7 1448 M932.2 1447 L939.3 1446.6 M949.7 1446 L949.7 1446 M967.3 1445 L974.3 1444.6 M984.8 1444 L984.8 1444 M1002.3 1442.5 L1002.3 1442.5 M1019.9 1440 L1028.6 1437.5 M1037.4 1434.9 L1037.4 1434.9 M1054.9 1426.9 L1063.7 1421.9 M1107.5 1378.4 L1116 1376.5 M1125 1374.4 L1125 1374.4 M1265.3 1242.8 L1265.3 1242.8 M1317.9 1240.3 L1324.6 1240.3 M1370.4 1234.8 L1375.2 1236.9 M1388 1242.8 L1388 1242.8 M1475.6 1197.4 L1475.6 1197.4 M1528.2 1163.3 L1528.2 1163.3 M1545.7 1155.7 L1548.9 1159.5 M1615.9 1135.7 L1615.9 1135.7 M1633.4 1146.2 L1642.1 1141.7 M1650.9 1137.2 L1650.9 1137.2 M1668.4 1145.2 L1670.8 1149.8 M1686 1179.6 L1686 1179.6 M1703.5 1210.6 L1703.5 1210.6 M1721 1238.5 L1723.9 1242.6 M1738.6 1263.6 L1738.6 1263.6 M1756.1 1286.2 L1759.3 1289.9 M1773.6 1306.5 L1773.6 1306.5 M1791.1 1324.8 L1791.1 1324.8 M1808.7 1341.3 L1812.4 1344.5 M1826.2 1356.1 L1826.2 1356.1 M1843.7 1369.5 L1847.8 1372.3 M1861.3 1381.5 L1861.3 1381.5 M1878.8 1392.3 L1878.8 1392.3 M1896.3 1402 L1900.9 1404.3 M1913.9 1410.7 L1913.9 1410.7 M1931.4 1418.6 L1936.3 1420.6 M1948.9 1425.7 L1948.9 1425.7 M1966.4 1432.1 L1966.4 1432.1 M1984 1437.8 L1989.3 1439.4"/>
<path fill="#666699" d="M1974.4 1471.3 L2001.5 1443 L2001.5 1489.5 L1974.4 1517.8 Z"/>
<polygon fill="#99ccff" points="241.1,1517.8 258.6,1517.8 276.1,1517.8 293.6,1517.8 311.1,1516.8 328.6,1511.8 346.1,1511.3 363.7,1510.8 381.2,1510.3 398.7,1509.8 416.2,1506.3 433.7,1505.8 451.2,1505.3 468.7,1504.3 486.2,1500.3 503.7,1490.8 521.2,1479.8 538.7,1472.8 556.2,1468.8 573.8,1467.8 591.3,1467.8 608.8,1468.3 626.3,1468.8 643.8,1469.3 661.3,1469.8 678.8,1470.3 696.3,1470.8 713.8,1471.3 731.3,1471.8 748.8,1475.3 766.3,1475.3 783.9,1475.8 801.4,1476.3 818.9,1476.8 836.4,1476.8 853.9,1476.8 871.4,1476.3 888.9,1475.8 906.4,1474.8 923.9,1473.8 941.4,1472.8 958.9,1471.8 976.4,1470.3 993.9,1467.8 1011.5,1462.8 1029,1454.8 1046.5,1444.8 1064,1417.8 1081.5,1406.3 1099,1402.3 1116.5,1390.8 1134,1349.8 1151.5,1327.8 1169,1319.8 1186.5,1295.8 1204,1270.8 1221.6,1249.8 1239.1,1270.8 1256.6,1295.8 1274.1,1268.3 1291.6,1268.3 1309.1,1268.3 1326.6,1231.8 1344.1,1262.8 1361.6,1270.8 1379.1,1288.2 1396.6,1247.5 1414.1,1248.6 1431.6,1229.8 1449.2,1225.5 1466.7,1222.2 1484.2,1190.3 1501.7,1191.4 1519.2,1183.8 1536.7,1204.6 1554.2,1185.8 1571.7,1162.8 1589.2,1163.8 1606.7,1174.3 1624.2,1165.3 1641.7,1173.3 1659.3,1207.8 1676.8,1238.8 1694.3,1266.7 1711.8,1291.8 1729.3,1314.4 1746.8,1334.7 1764.3,1353 1781.8,1369.5 1799.3,1384.3 1816.8,1397.7 1834.3,1409.7 1851.8,1420.5 1869.4,1430.2 1886.9,1439 1904.4,1446.9 1921.9,1454 1939.4,1460.3 1956.9,1466.1 1974.4,1471.3 1974.4,1517.8 241.1,1517.8"/>
</g>
<g>
<text class="b" x="486.6" y="98" font-family="Carlito, 'Liberation Sans', sans-serif" font-size="114" font-weight="700" textLength="1321.3" lengthAdjust="spacingAndGlyphs">PVC development scenarios</text>
<text class="b" x="120.8" y="230" font-family="Carlito, 'Liberation Sans', sans-serif" font-size="71" font-weight="700" textLength="2142.8" lengthAdjust="spacingAndGlyphs">Domestic consumption and waste generation over a 34-year service life*</text>
<text class="r" x="160.1" y="311.5" font-family="Carlito, 'Liberation Sans', sans-serif" font-size="71" font-weight="400" textLength="2056" lengthAdjust="spacingAndGlyphs">Scenario A: +2% p.a.** from 1998, +1% p.a. from 2010,+ 0.1% p.a. from</text>
<text class="r" x="847.9" y="393.5" font-family="Carlito, 'Liberation Sans', sans-serif" font-size="71" font-weight="400" textLength="618.5" lengthAdjust="spacingAndGlyphs">Scenario B: –10% p.a.</text>
<text class="b" x="180.2" y="491.6" font-family="Carlito, 'Liberation Sans', sans-serif" font-size="70" font-weight="700" textLength="256.8" lengthAdjust="spacingAndGlyphs">1000 Mg</text>
<text class="b" x="23.7" y="881.8" font-family="Carlito, 'Liberation Sans', sans-serif" font-size="70" font-weight="700" textLength="141.9" lengthAdjust="spacingAndGlyphs">2500</text>
<text class="b" x="23.7" y="1023.6" font-family="Carlito, 'Liberation Sans', sans-serif" font-size="70" font-weight="700" textLength="141.9" lengthAdjust="spacingAndGlyphs">2000</text>
<text class="b" x="23.7" y="1160.8" font-family="Carlito, 'Liberation Sans', sans-serif" font-size="70" font-weight="700" textLength="141.9" lengthAdjust="spacingAndGlyphs">1500</text>
<text class="b" x="23.7" y="1295.8" font-family="Carlito, 'Liberation Sans', sans-serif" font-size="70" font-weight="700" textLength="141.9" lengthAdjust="spacingAndGlyphs">1000</text>
<text class="b" x="130.2" y="1574.8" font-family="Carlito, 'Liberation Sans', sans-serif" font-size="70" font-weight="700" textLength="35.5" lengthAdjust="spacingAndGlyphs">0</text>
<text x="55.7" y="1432.1" font-family="'Liberation Serif', serif" font-size="68.3" font-weight="700" textLength="108" lengthAdjust="spacingAndGlyphs">500</text>
<text class="b" x="311.3" y="1642" font-family="Carlito, 'Liberation Sans', sans-serif" font-size="54.6" font-weight="700" textLength="110.7" lengthAdjust="spacingAndGlyphs">1960</text>
<text class="b" x="486.5" y="1642" font-family="Carlito, 'Liberation Sans', sans-serif" font-size="54.6" font-weight="700" textLength="110.7" lengthAdjust="spacingAndGlyphs">1970</text>
<text class="b" x="661.8" y="1642" font-family="Carlito, 'Liberation Sans', sans-serif" font-size="54.6" font-weight="700" textLength="110.7" lengthAdjust="spacingAndGlyphs">1980</text>
<text class="b" x="837" y="1642" font-family="Carlito, 'Liberation Sans', sans-serif" font-size="54.6" font-weight="700" textLength="110.7" lengthAdjust="spacingAndGlyphs">1990</text>
<text class="b" x="1013.2" y="1642" font-family="Carlito, 'Liberation Sans', sans-serif" font-size="54.6" font-weight="700" textLength="110.7" lengthAdjust="spacingAndGlyphs">2000</text>
<text class="b" x="1188.4" y="1642" font-family="Carlito, 'Liberation Sans', sans-serif" font-size="54.6" font-weight="700" textLength="110.7" lengthAdjust="spacingAndGlyphs">2010</text>
<text class="b" x="1363.7" y="1642" font-family="Carlito, 'Liberation Sans', sans-serif" font-size="54.6" font-weight="700" textLength="110.7" lengthAdjust="spacingAndGlyphs">2020</text>
<text class="b" x="1538.9" y="1642" font-family="Carlito, 'Liberation Sans', sans-serif" font-size="54.6" font-weight="700" textLength="110.7" lengthAdjust="spacingAndGlyphs">2030</text>
<text class="b" x="1714.2" y="1642" font-family="Carlito, 'Liberation Sans', sans-serif" font-size="54.6" font-weight="700" textLength="110.7" lengthAdjust="spacingAndGlyphs">2040</text>
<text class="b" x="1889.4" y="1642" font-family="Carlito, 'Liberation Sans', sans-serif" font-size="54.6" font-weight="700" textLength="110.7" lengthAdjust="spacingAndGlyphs">2050</text>
<text class="b" x="309.4" y="1723.5" font-family="Carlito, 'Liberation Sans', sans-serif" font-size="49.2" font-weight="700" textLength="1031.9" lengthAdjust="spacingAndGlyphs">* weighted average service life, without packaging</text>
<text class="b" x="309.4" y="1784" font-family="Carlito, 'Liberation Sans', sans-serif" font-size="49.2" font-weight="700" textLength="502" lengthAdjust="spacingAndGlyphs">** per annum = per year</text>
<text class="b" x="1628.5" y="839.7" font-family="Carlito, 'Liberation Sans', sans-serif" font-size="70" font-weight="700" textLength="394" lengthAdjust="spacingAndGlyphs">Consumption</text>
<text class="b" x="1634.2" y="920.7" font-family="Carlito, 'Liberation Sans', sans-serif" font-size="70" font-weight="700" textLength="309" lengthAdjust="spacingAndGlyphs">Scenario A</text>
<text class="b" x="1867.4" y="1056.7" font-family="Carlito, 'Liberation Sans', sans-serif" font-size="70" font-weight="700" textLength="185.1" lengthAdjust="spacingAndGlyphs">Waste</text>
<text class="b" x="1789.5" y="1139.1" font-family="Carlito, 'Liberation Sans', sans-serif" font-size="70" font-weight="700" textLength="309" lengthAdjust="spacingAndGlyphs">Szenario A</text>
<text class="b" x="701.1" y="1307" font-family="Carlito, 'Liberation Sans', sans-serif" font-size="70" font-weight="700" textLength="393.9" lengthAdjust="spacingAndGlyphs">Consumption</text>
<text class="b" x="701.3" y="1388.5" font-family="Carlito, 'Liberation Sans', sans-serif" font-size="70" font-weight="700" textLength="306.7" lengthAdjust="spacingAndGlyphs">Scenario B</text>
<text class="b" x="1346.5" y="1389.4" font-family="Carlito, 'Liberation Sans', sans-serif" font-size="70" font-weight="700" textLength="184.6" lengthAdjust="spacingAndGlyphs">Waste</text>
<text class="b" x="1279.1" y="1470.9" font-family="Carlito, 'Liberation Sans', sans-serif" font-size="70" font-weight="700" textLength="308.1" lengthAdjust="spacingAndGlyphs">Scenario B</text>
</g>
</g>
</svg>
</body>
</html>
